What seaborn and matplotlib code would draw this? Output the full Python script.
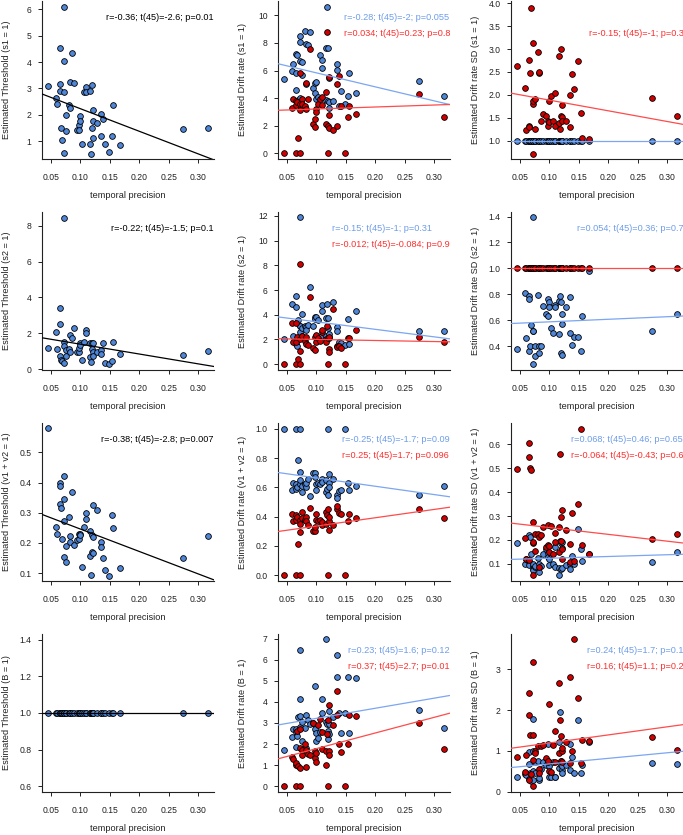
import numpy as np
import pandas as pd
import seaborn as sns
import matplotlib.pyplot as plt
from matplotlib.lines import Line2D

sns.set_style('ticks')
plt.rcParams['font.family'] = ['Liberation Sans', 'DejaVu Sans']

# temporal precision of the 47 participants (shared x axis)
temporal_precision = [0.046, 0.059, 0.061, 0.066, 0.066, 0.066, 0.067, 0.069, 0.072, 0.072,
                      0.072, 0.073, 0.075, 0.076, 0.081, 0.082, 0.083, 0.086, 0.090, 0.094,
                      0.098, 0.098, 0.100, 0.100, 0.103, 0.106, 0.110, 0.110, 0.117, 0.117,
                      0.119, 0.120, 0.120, 0.122, 0.122, 0.122, 0.128, 0.135, 0.136, 0.138,
                      0.142, 0.149, 0.154, 0.156, 0.168, 0.274, 0.316]

# row 1: s1 = 1
threshold_s1 = [3.10, 2.62, 2.43, 4.54, 3.16, 2.89, 1.51, 1.05, 6.09, 2.85,
                0.56, 4.03, 1.40, 2.01, 2.39, 2.27, 3.23, 4.35, 3.20, 1.44,
                1.61, 1.44, 1.94, 1.78, 0.89, 2.87, 3.06, 2.87, 2.91, 0.91,
                0.53, 3.14, 1.51, 2.20, 1.76, 1.14, 1.68, 2.04, 1.20, 1.86,
                0.89, 0.59, 1.20, 2.37, 0.86, 1.47, 1.49]
drift_s1_blue = [5.37, 6.0, 6.5, 7.2, 4.55, 5.8, 7.15, 3.85, 8.5, 4.0,
                 6.7, 8.1, 6.6, 5.7, 8.85, 7.9, 5.05, 7.85, 8.8, 4.75,
                 5.1, 4.4, 5.2, 3.9, 4.1, 7.15, 6.2, 6.75, 3.85, 7.6,
                 10.65, 7.6, 3.8, 5.45, 3.3, 3.7, 3.8, 6.05, 6.5, 3.4,
                 4.5, 3.6, 4.15, 5.85, 4.4, 5.25, 4.15]
drift_s1_red = [0.0, 3.3, 3.9, 3.8, 0.0, 3.5, 3.7, 1.1, 5.8, 0.0,
                3.6, 3.1, 3.9, 3.6, 3.4, 3.2, 5.1, 3.9, 7.55, 2.1,
                1.9, 2.5, 3.2, 3.0, 3.6, 3.9, 3.5, 4.05, 4.45, 2.1,
                8.8, 2.0, 0.0, 5.5, 2.75, 1.85, 1.7, 5.0, 2.0, 5.6,
                3.4, 0.0, 2.6, 3.45, 2.85, 4.3, 2.65]
driftsd_s1_blue = [1.0] * 47
driftsd_s1_red = [2.63, 2.16, 1.24, 2.76, 1.33, 1.29, 2.47, 3.90, 1.81, 3.14,
                  0.72, 1.87, 1.91, 1.25, 2.93, 2.47, 2.49, 1.42, 1.58, 1.53,
                  1.33, 1.44, 1.41, 1.86, 1.98, 1.44, 1.33, 2.05, 1.38, 2.84,
                  1.25, 3.00, 1.54, 1.52, 1.77, 1.42, 1.42, 2.00, 1.29, 2.45,
                  2.13, 2.73, 1.60, 1.05, 1.04, 1.93, 1.53]

# row 2: s2 = 1
threshold_s2 = [1.17, 2.08, 1.12, 3.40, 2.51, 0.71, 0.52, 0.43, 8.43, 1.53,
                0.33, 1.30, 0.74, 1.06, 1.12, 1.90, 0.93, 1.75, 2.27, 0.97,
                0.93, 1.20, 1.43, 1.34, 0.50, 1.49, 2.20, 2.01, 1.43, 0.65,
                0.40, 1.43, 1.15, 1.43, 0.97, 0.74, 0.93, 1.06, 0.87, 1.43,
                0.33, 0.30, 0.43, 1.49, 0.84, 0.78, 0.99]
drift_s2_blue = [2.04, 4.89, 2.26, 5.52, 1.63, 4.62, 1.49, 3.59, 11.9, 2.58,
                 3.07, 3.13, 2.9, 4.08, 3.1, 3.0, 2.8, 3.2, 6.25, 3.07,
                 3.86, 3.67, 3.8, 2.3, 3.6, 2.2, 4.76, 4.27, 3.72, 2.31,
                 4.89, 2.91, 3.7, 2.2, 2.45, 2.1, 5.03, 2.99, 2.72, 1.82,
                 1.71, 1.55, 3.67, 1.6, 4.27, 2.72, 2.72]
drift_s2_red = [0.0, 3.3, 1.82, 3.32, 0.0, 1.77, 2.2, 0.41, 8.1, 0.0,
                2.0, 1.03, 2.3, 2.3, 1.90, 2.2, 1.63, 1.55, 5.4, 1.28,
                1.17, 2.2, 2.36, 1.77, 2.1, 1.9, 2.64, 2.8, 2.04, 1.77,
                3.13, 2.09, 0.0, 1.22, 0.95, 2.2, 4.43, 1.5, 1.4, 1.45,
                1.3, 0.0, 2.09, 2.1, 2.77, 2.2, 1.77]
driftsd_s2_blue = [0.38, 0.81, 0.46, 0.79, 0.76, 0.36, 0.40, 0.56, 1.395, 0.52,
                   0.26, 0.52, 0.32, 0.40, 0.795, 0.40, 0.35, 0.40, 0.71, 0.65,
                   0.63, 0.76, 0.74, 0.70, 0.54, 0.50, 0.72, 0.70, 0.49, 0.75,
                   0.79, 0.74, 0.35, 0.65, 0.33, 0.57, 0.70, 0.50, 0.78, 0.41,
                   0.47, 0.47, 0.36, 0.63, 0.977, 0.52, 0.65]
driftsd_s2_red = [1.0] * 47

# row 3: v1 + v2 = 1
threshold_v = [0.579, 0.253, 0.231, 0.40, 0.39, 0.328, 0.317, 0.212, 0.423, 0.272,
               0.153, 0.346, 0.189, 0.137, 0.287, 0.202, 0.223, 0.368, 0.192, 0.209,
               0.212, 0.228, 0.231, 0.225, 0.12, 0.252, 0.30, 0.279, 0.239, 0.157,
               0.094, 0.17, 0.226, 0.326, 0.22, 0.168, 0.309, 0.203, 0.186, 0.15,
               0.112, 0.092, 0.292, 0.25, 0.118, 0.151, 0.222]
drift_v_blue = [1.0, 0.58, 0.63, 0.59, 1.0, 0.62, 0.60, 0.788, 0.62, 1.0,
                0.708, 0.65, 0.61, 0.57, 0.62, 0.60, 0.63, 0.66, 0.54, 0.70,
                0.70, 0.67, 0.62, 0.58, 0.63, 0.62, 0.66, 0.64, 0.65, 0.57,
                0.59, 0.55, 1.0, 0.69, 0.63, 0.60, 0.66, 0.55, 0.53, 0.575,
                0.58, 1.0, 0.63, 0.58, 0.61, 0.548, 0.612]
drift_v_red = [0.0, 0.42, 0.37, 0.41, 0.0, 0.38, 0.40, 0.212, 0.38, 0.0,
               0.292, 0.35, 0.39, 0.43, 0.38, 0.40, 0.37, 0.34, 0.46, 0.30,
               0.30, 0.33, 0.38, 0.42, 0.37, 0.38, 0.34, 0.36, 0.35, 0.43,
               0.41, 0.45, 0.0, 0.31, 0.37, 0.40, 0.34, 0.45, 0.47, 0.425,
               0.42, 0.0, 0.37, 0.42, 0.39, 0.452, 0.388]
driftsd_v_blue = [0.188, 0.10, 0.12, 0.222, 0.107, 0.095, 0.21, 0.14, 0.09, 0.076,
                  0.10, 0.072, 0.085, 0.09, 0.124, 0.10, 0.065, 0.09, 0.14, 0.16,
                  0.146, 0.13, 0.12, 0.093, 0.142, 0.10, 0.086, 0.17, 0.08, 0.054,
                  0.194, 0.185, 0.079, 0.166, 0.19, 0.08, 0.093, 0.10, 0.079, 0.131,
                  0.10, 0.247, 0.163, 0.11, 0.14, 0.107, 0.149]
driftsd_v_red = [0.496, 0.208, 0.121, 0.608, 0.117, 0.547, 0.503, 0.492, 0.275, 0.188,
                 0.051, 0.19, 0.152, 0.226, 0.225, 0.21, 0.086, 0.22, 0.254, 0.17,
                 0.177, 0.264, 0.175, 0.149, 0.26, 0.14, 0.229, 0.19, 0.149, 0.254,
                 0.562, 0.194, 0.296, 0.118, 0.327, 0.16, 0.243, 0.107, 0.184, 0.314,
                 0.11, 0.349, 0.664, 0.177, 0.142, 0.205, 0.226]

# row 4: B = 1
threshold_b = [1.0] * 47
drift_b_blue = [1.72, 2.32, 2.72, 2.7, 1.85, 2.56, 2.40, 3.3, 6.49, 3.31,
                2.83, 4.15, 3.07, 2.15, 2.75, 3.36, 1.80, 3.15, 2.94, 3.0,
                2.72, 4.74, 2.51, 2.15, 2.3, 2.59, 3.47, 4.15, 6.97, 3.07,
                2.94, 2.24, 2.6, 2.94, 3.55, 2.5, 3.3, 5.17, 6.25, 3.47,
                2.51, 3.47, 5.17, 2.51, 5.15, 3.63, 2.78]
drift_b_red = [0.0, 1.4, 1.3, 1.0, 0.0, 1.1, 2.6, 0.95, 1.8, 0.0,
               0.87, 2.7, 1.5, 1.72, 2.0, 0.92, 1.72, 1.51, 1.48, 3.0,
               1.35, 1.67, 1.56, 1.13, 2.91, 3.2, 1.77, 2.55, 1.0, 1.67,
               2.47, 3.15, 0.0, 1.67, 3.87, 1.48, 2.9, 4.5, 3.39, 2.0,
               1.6, 0.0, 2.0, 3.39, 3.35, 2.99, 1.77]
driftsd_b_blue = [0.35, 0.43, 0.40, 0.67, 0.31, 0.98, 0.45, 0.25, 1.78, 0.51,
                  0.28, 1.0, 0.45, 0.72, 0.74, 0.29, 0.33, 0.55, 0.72, 0.66,
                  0.74, 1.18, 0.63, 0.37, 0.37, 0.72, 0.37, 0.37, 1.23, 0.57,
                  1.95, 0.66, 0.74, 0.53, 0.62, 0.45, 0.66, 0.53, 1.18, 0.86,
                  0.45, 1.77, 0.45, 0.66, 1.23, 0.70, 0.67]
driftsd_b_red = [0.86, 0.49, 0.90, 1.87, 0.29, 2.41, 1.40, 0.44, 3.19, 0.78,
                 0.14, 1.40, 0.99, 0.94, 1.13, 0.55, 0.45, 1.11, 1.15, 0.82,
                 0.72, 0.74, 2.16, 0.51, 0.48, 1.15, 0.72, 1.50, 2.67, 0.94,
                 1.77, 1.36, 0.74, 1.0, 0.72, 1.06, 1.23, 2.82, 0.70, 1.0,
                 3.74, 2.30, 0.70, 1.27, 1.25, 1.35, 1.02]

# correlation labels as printed
stats_threshold = ['r=-0.36; t(45)=-2.6; p=0.01', 'r=-0.22; t(45)=-1.5; p=0.1',
                   'r=-0.38; t(45)=-2.8; p=0.007', None]
stats_drift_blue = ['r=-0.28; t(45)=-2; p=0.055', 'r=-0.15; t(45)=-1; p=0.31',
                    'r=-0.25; t(45)=-1.7; p=0.09', 'r=0.23; t(45)=1.6; p=0.12']
stats_drift_red = ['r=0.034; t(45)=0.23; p=0.8', 'r=-0.012; t(45)=-0.084; p=0.9',
                   'r=0.25; t(45)=1.7; p=0.096', 'r=0.37; t(45)=2.7; p=0.01']
stats_sd_blue = [None, 'r=0.054; t(45)=0.36; p=0.72', 'r=0.068; t(45)=0.46; p=0.65',
                 'r=0.24; t(45)=1.7; p=0.1']
stats_sd_red = ['r=-0.15; t(45)=-1; p=0.33', None, 'r=-0.064; t(45)=-0.43; p=0.67',
                'r=0.16; t(45)=1.1; p=0.29']

conditions = ['s1 = 1', 's2 = 1', 'v1 + v2 = 1', 'B = 1']

BLUE_FILL, RED_FILL = '#4F86D8', '#D10000'
BLUE_LINE, RED_LINE = '#7BA6F2', '#FF4B4B'
BLUE_TEXT, RED_TEXT = '#6E9DEA', '#FF2E2E'

thresholds = [threshold_s1, threshold_s2, threshold_v, threshold_b]
drifts = [(drift_s1_blue, drift_s1_red), (drift_s2_blue, drift_s2_red),
          (drift_v_blue, drift_v_red), (drift_b_blue, drift_b_red)]
drift_sds = [(driftsd_s1_blue, driftsd_s1_red), (driftsd_s2_blue, driftsd_s2_red),
             (driftsd_v_blue, driftsd_v_red), (driftsd_b_blue, driftsd_b_red)]

ylims = [[(0.33, 6.31), (-0.43, 11.05), (0.6, 4.05)],
         [(-0.05, 8.77), (-0.47, 12.32), (0.215, 1.435)],
         [(0.074, 0.597), (-0.04, 1.04), (0.0275, 0.69)],
         [(0.568, 1.432), (-0.28, 7.23), (-0.01, 3.87)]]
yticks = [[np.arange(1, 7), np.arange(0, 11, 2), np.arange(1.0, 4.01, 0.5)],
          [np.arange(0, 9, 2), np.arange(0, 13, 2), np.arange(0.4, 1.41, 0.2)],
          [np.arange(0.1, 0.51, 0.1), np.arange(0, 1.01, 0.2), np.arange(0.1, 0.61, 0.1)],
          [np.arange(0.6, 1.41, 0.2), np.arange(0, 8), np.arange(0, 4)]]
ytick_fmt = [['{:.0f}', '{:.0f}', '{:.1f}'], ['{:.0f}', '{:.0f}', '{:.1f}'],
             ['{:.1f}', '{:.1f}', '{:.1f}'], ['{:.1f}', '{:.0f}', '{:.0f}']]


def draw_panel(ax, series, texts, ylabel, ylim, ticks, fmt, text_x=1.0):
    ax.set_xlim(0.035, 0.327)
    ax.set_ylim(*ylim)
    for y, fill, line in series:
        sns.scatterplot(x=temporal_precision, y=y, ax=ax, color=fill, edgecolor='black',
                        linewidth=0.6, s=17, zorder=3, legend=False)
    for y, fill, line in series:
        sns.regplot(x=temporal_precision, y=y, ax=ax, scatter=False, ci=None,
                    truncate=False, color=line, line_kws={'lw': 0.9, 'zorder': 4})
    ax.set_xlim(0.035, 0.327)
    ax.set_ylim(*ylim)
    ax.set_xticks(np.arange(0.05, 0.31, 0.05))
    ax.set_xticklabels(['{:.2f}'.format(v) for v in np.arange(0.05, 0.31, 0.05)])
    ax.set_yticks(ticks)
    ax.set_yticklabels([fmt.format(v) for v in ticks])
    ax.tick_params(axis='both', labelsize=6.2, length=3, width=0.7, colors='#222222',
                   direction='out')
    ax.tick_params(axis='x', pad=7)
    ax.tick_params(axis='y', pad=4.5)
    for side in ['top', 'right']:
        ax.spines[side].set_visible(False)
    for side in ['left', 'bottom']:
        ax.spines[side].set_color('#222222')
        ax.spines[side].set_linewidth(0.8)
    ax.set_xlabel('temporal precision', fontsize=6.6, color='#222222')
    ax.set_ylabel(ylabel, fontsize=6.6, color='#222222')
    ax.xaxis.set_label_coords(0.5, -0.2)
    ax.yaxis.set_label_coords(-0.18, 0.5)
    if texts:
        handles = [Line2D([], [], lw=0) for _ in texts]
        ax.legend(handles, [t for t, c in texts], labelcolor=[c for t, c in texts],
                  loc='upper right', bbox_to_anchor=(text_x, 0.925), frameon=False,
                  handlelength=0, handletextpad=0, borderpad=0, borderaxespad=0,
                  labelspacing=0.75, fontsize=6.6)


fig = plt.figure(figsize=(6.83, 8.35), dpi=100)
lefts = [42 / 683, 278 / 683, 511 / 683]
bottoms = [676 / 835, 465 / 835, 254 / 835, 43 / 835]
width, height = 172 / 683, 158 / 835

for r in range(4):
    cond = conditions[r]
    # threshold
    ax = fig.add_axes([lefts[0], bottoms[r], width, height])
    texts = [(stats_threshold[r], 'black')] if stats_threshold[r] else []
    draw_panel(ax, [(thresholds[r], BLUE_FILL, 'black')], texts,
               'Estimated Threshold ({})'.format(cond), ylims[r][0], yticks[r][0], ytick_fmt[r][0])
    # drift rate
    ax = fig.add_axes([lefts[1], bottoms[r], width, height])
    blue, red = drifts[r]
    texts = [(stats_drift_blue[r], BLUE_TEXT), (stats_drift_red[r], RED_TEXT)]
    draw_panel(ax, [(blue, BLUE_FILL, BLUE_LINE), (red, RED_FILL, RED_LINE)], texts,
               'Estimated Drift rate ({})'.format(cond), ylims[r][1], yticks[r][1], ytick_fmt[r][1])
    # drift rate SD (right column runs past the figure edge, as in the source)
    ax = fig.add_axes([lefts[2], bottoms[r], width, height])
    blue, red = drift_sds[r]
    texts = [(stats_sd_blue[r] or ' ', BLUE_TEXT), (stats_sd_red[r] or ' ', RED_TEXT)]
    draw_panel(ax, [(blue, BLUE_FILL, BLUE_LINE), (red, RED_FILL, RED_LINE)], texts,
               'Estimated Drift rate SD ({})'.format(cond), ylims[r][2], yticks[r][2], ytick_fmt[r][2],
               text_x=1.035)

fig.savefig('out.png', dpi=100)
